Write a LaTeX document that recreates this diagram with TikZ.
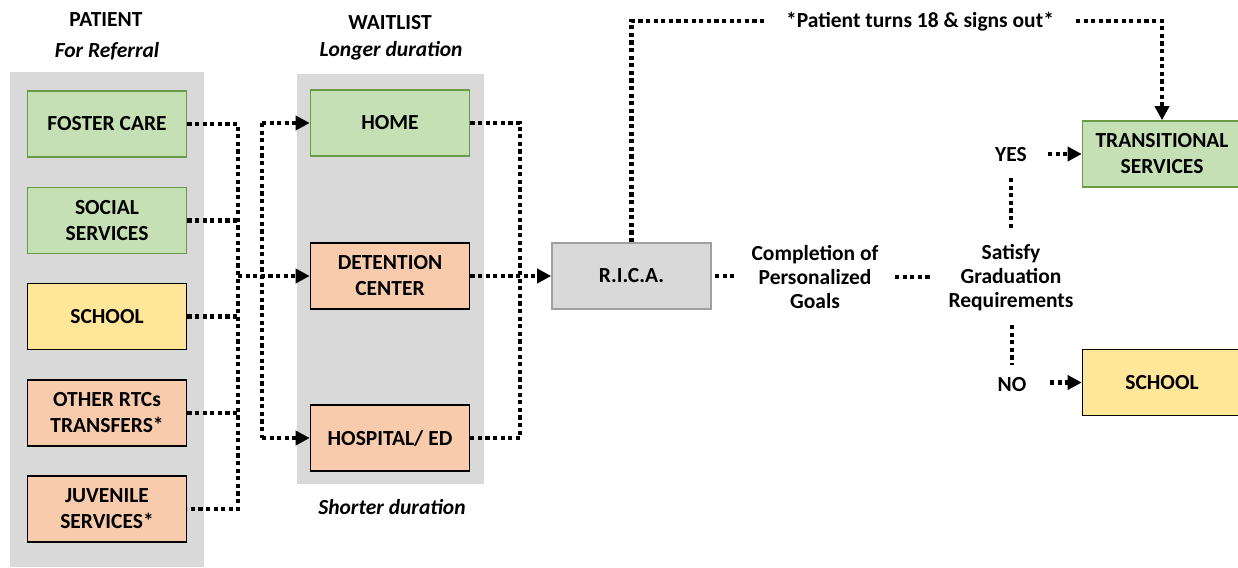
\documentclass[tikz,border=0pt]{standalone}
\usepackage{fontspec}
\setmainfont{Carlito}
\usetikzlibrary{arrows.meta}
\definecolor{panelgray}{HTML}{D9D9D9}
\definecolor{boxgreen}{HTML}{C5E0B4}
\definecolor{boxgreenline}{HTML}{6A9A48}
\definecolor{boxorange}{HTML}{F8CBAD}
\definecolor{boxyellow}{HTML}{FFE699}
\definecolor{ricafill}{HTML}{D9D9D9}
\definecolor{ricaline}{HTML}{A0A0A0}
\begin{document}
\begin{tikzpicture}[x=1pt,y=-1pt,
  box/.style={draw, line width=1.6pt, minimum width=159pt, minimum height=66pt, align=center,
    font=\bfseries\fontsize{21.5}{26}\selectfont, inner sep=2pt},
  greenbox/.style={box, fill=boxgreen, draw=boxgreenline},
  orangebox/.style={box, fill=boxorange, draw=black},
  yellowbox/.style={box, fill=boxyellow, draw=black},
  ricabox/.style={box, fill=ricafill, draw=ricaline},
  lbl/.style={font=\bfseries\fontsize{21.5}{24}\selectfont, align=center, inner sep=0pt},
  sublbl/.style={font=\bfseries\itshape\fontsize{21.5}{24}\selectfont, align=center, inner sep=0pt},
  dots/.style={line width=4.2pt, dash pattern=on 4.2pt off 3.4pt},
  arr/.style={dots, -{Triangle[length=14pt,width=14pt]}}
]
\useasboundingbox (0,0) rectangle (1238,567);
% panels
\fill[panelgray] (10,72) rectangle (204,567);
\fill[panelgray] (297,74) rectangle (484,484);
% titles
\node[lbl] (ttlpatient) at (106,20) {PATIENT};
\node[sublbl] (subpatient) at (107,51) {For Referral};
\node[lbl] (ttlwait) at (390,23) {WAITLIST};
\node[sublbl] (subwait) at (391,51) {Longer duration};
\node[sublbl] (subwait2) at (392,507) {Shorter duration};
% left boxes
\node[greenbox] (foster) at (107,124) {FOSTER CARE};
\node[greenbox] (social) at (107,220.5) {SOCIAL\\SERVICES};
\node[yellowbox] (school) at (107,316.5) {SCHOOL};
\node[orangebox] (other) at (107,413) {OTHER RTCs\\TRANSFERS*};
\node[orangebox] (juvenile) at (107,509) {JUVENILE\\SERVICES*};
% waitlist boxes
\node[greenbox] (home) at (390,123) {HOME};
\node[orangebox] (detention) at (390,276) {DETENTION\\CENTER};
\node[orangebox] (hospital) at (390,438) {HOSPITAL/ ED};
% rica
\node[ricabox] (rica) at (631.5,276) {R.I.C.A.};
% outcome boxes
\node[greenbox] (trans) at (1162,154) {TRANSITIONAL\\SERVICES};
\node[yellowbox] (school2) at (1162,382.5) {SCHOOL};
% labels
\node[lbl] (comp) at (815,277) {Completion of\\Personalized\\Goals};
\node[lbl] (sat) at (1011,278) {Satisfy\\Graduation\\Requirements};
\node[lbl] (yes) at (1011,155) {YES};
\node[lbl] (no) at (1012,385) {NO};
\node[lbl] (turns) at (920,22) {*Patient turns 18 \& signs out*};
% bus coordinates
\coordinate (bx) at (238,0);
\coordinate (cx) at (262,0);
\coordinate (dx) at (520,0);
\coordinate (topL) at (765,21);
\coordinate (topR) at (1076,21);
\coordinate (s1a) at (715,276);
\coordinate (s1b) at (735,276);
\coordinate (s2a) at (895,277);
\coordinate (s2b) at (932,277);
\coordinate (v1a) at (1011,178);
\coordinate (v1b) at (1011,229);
\coordinate (v2a) at (1012,325);
\coordinate (v2b) at (1012,365);
\coordinate (ya) at (1048,154);
\coordinate (na) at (1050,382.5);
% left connectors
\draw[dots] (foster.east) -| (juvenile.east -| bx) -- (juvenile.east);
\draw[dots] (social.east) -- (social.east -| bx);
\draw[dots] (school.east) -- (school.east -| bx);
\draw[dots] (other.east) -- (other.east -| bx);
\draw[arr] (detention.west -| bx) -- (detention.west);
\draw[dots] (home.west -| cx) -- (hospital.west -| cx);
\draw[arr] (home.west -| cx) -- (home.west);
\draw[arr] (hospital.west -| cx) -- (hospital.west);
% right of waitlist
\draw[dots] (home.east) -| (hospital.east -| dx) -- (hospital.east);
\draw[arr] (detention.east) -- (rica.west);
% top route
\draw[dots] (rica.north) |- (topL);
\draw[arr] (topR) -| (trans.north);
% flow to graduation
\draw[dots] (s1a) -- (s1b);
\draw[dots] (s2a) -- (s2b);
\draw[dots] (v1a) -- (v1b);
\draw[dots] (v2a) -- (v2b);
\draw[arr] (ya) -- (trans.west);
\draw[arr] (na) -- (school2.west);
\end{tikzpicture}
\end{document}
